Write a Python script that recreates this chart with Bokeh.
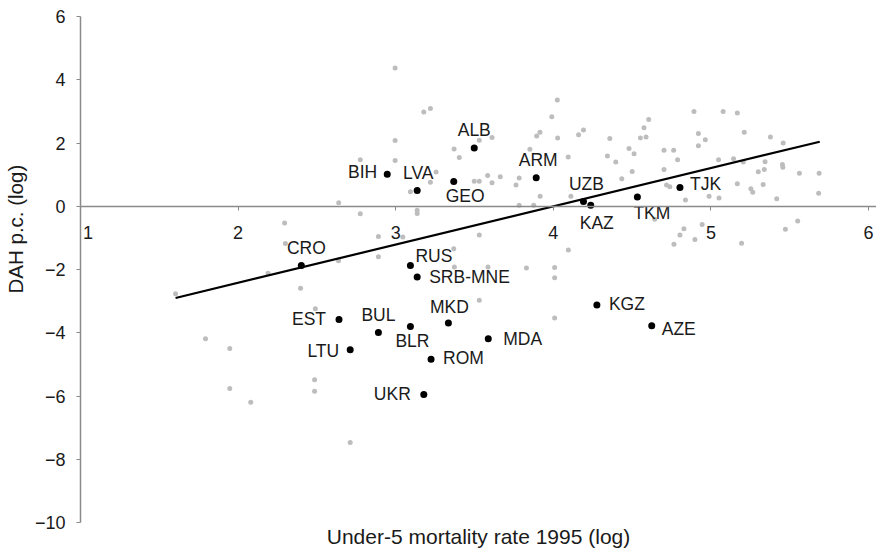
from bokeh.plotting import figure
from bokeh.models import ColumnDataSource, LinearAxis, FixedTicker, Title
from bokeh.embed import file_html
from bokeh.resources import INLINE
from bokeh.core.properties import value

# Under-5 mortality 1995 (log) and development assistance for health per capita (log)
# for all other countries (grey cloud)
other_u5mr = [
    1.603, 1.793, 1.947, 1.947, 2.080, 2.190, 2.396, 2.295, 2.300, 2.638,
    2.775, 2.775, 2.996, 2.996, 2.996, 3.136, 3.136, 3.093, 3.178, 3.220,
    3.220, 3.256, 2.890, 2.890, 3.045, 2.637, 2.490, 2.485, 2.485, 2.711,
    3.368, 3.372, 3.530, 3.530, 3.585, 3.829, 4.008, 4.008, 4.008, 4.095,
    3.370, 3.403, 3.530, 3.611, 3.498, 3.530, 3.611, 3.583, 3.663, 3.783,
    3.763, 3.851, 3.916, 3.783, 3.875, 3.894, 3.915, 3.990, 4.025, 4.027,
    4.094, 4.111, 4.160, 4.191, 4.343, 4.358, 4.396, 4.434, 4.480, 4.512,
    4.500, 4.552, 4.588, 4.575, 4.605, 4.643, 4.702, 4.763, 4.788, 4.702,
    4.718, 4.739, 4.838, 4.828, 4.803, 4.944, 4.898, 4.765, 4.892, 4.920,
    4.964, 4.920, 4.988, 5.051, 5.048, 5.077, 5.167, 5.143, 5.211, 5.205,
    5.167, 5.300, 5.338, 5.343, 5.331, 5.253, 5.265, 5.377, 5.458, 5.453,
    5.456, 5.417, 5.561, 5.686, 5.683, 5.194, 5.472, 5.550,
]
other_dah = [
    -2.77, -4.19, -4.50, -5.76, -6.20, -2.12, -2.59, -0.53, -1.18, 0.11,
    1.47, -0.24, 4.37, 2.08, 1.45, -0.13, -0.23, 0.46, 2.98, 3.09,
    0.76, 1.08, -0.96, -1.60, -0.97, -1.72, -3.24, -5.49, -5.85, -7.47,
    -1.34, -1.92, -0.91, -2.97, -1.92, -1.95, -1.94, -2.26, -3.53, -1.38,
    1.81, 1.54, 2.09, 2.17, 0.79, 0.79, 0.74, 0.97, 0.93, 0.89,
    0.67, 1.80, 0.32, 0.03, 0.03, 2.22, 2.34, 2.83, 3.36, 2.16,
    1.56, 0.32, 2.26, 2.41, 1.59, 2.14, 1.40, 0.87, 1.83, 1.66,
    1.10, 2.16, 2.19, 2.48, 2.74, -0.41, 1.77, 1.77, 1.47, 1.16,
    0.67, 0.62, 0.20, -0.71, -0.91, -0.58, -1.05, -1.20, 3.00, 2.30,
    2.10, 1.91, 0.32, 0.26, 1.47, 3.00, 2.95, 1.50, 2.34, 1.40,
    0.71, 1.09, 1.16, 1.41, 0.69, 0.55, 0.44, 2.19, 2.00, 1.32,
    1.23, 0.24, 1.04, 1.04, 0.41, -1.17, -0.73, -0.47,
]

# Transition economies, highlighted and labelled
countries = ["ALB", "BIH", "LVA", "GEO", "ARM", "CRO", "RUS", "SRB-MNE",
             "UZB", "KAZ", "TKM", "TJK", "EST", "BUL", "BLR", "MKD",
             "MDA", "LTU", "ROM", "UKR", "KGZ", "AZE"]
country_u5mr = [3.498, 2.946, 3.136, 3.368, 3.891, 2.401, 3.093, 3.136,
                4.191, 4.237, 4.533, 4.803, 2.640, 2.890, 3.093, 3.334,
                3.587, 2.711, 3.224, 3.178, 4.276, 4.624]
country_dah = [1.84, 1.01, 0.50, 0.78, 0.90, -1.87, -1.87, -2.24,
               0.15, 0.03, 0.29, 0.59, -3.58, -3.99, -3.80, -3.69,
               -4.19, -4.54, -4.84, -5.95, -3.12, -3.78]

# Fitted regression line
fit_u5mr = [1.603, 5.690]
fit_slope = 1.209
fit_intercept = -4.838

x_ticks = [1, 2, 3, 4, 5, 6]
y_ticks = [-10, -8, -6, -4, -2, 0, 2, 4, 6]

# Label placement around each marker: (dx px, dy px downward, alignment)
label_place = {
    "ALB": (0, -18, "center"), "BIH": (-10, -2, "right"), "LVA": (1, -17, "center"),
    "GEO": (-8, 14, "left"), "ARM": (2, -18, "center"), "CRO": (5, -17, "center"),
    "RUS": (5, -9, "left"), "SRB-MNE": (12, 0, "left"), "UZB": (3, -18, "center"),
    "KAZ": (6, 18, "center"), "TKM": (-4, 16, "left"), "TJK": (10, -4, "left"),
    "EST": (-13, 0, "right"), "BUL": (0, -17, "center"), "BLR": (2, 15, "center"),
    "MKD": (1, -16, "center"), "MDA": (15, 0, "left"), "LTU": (-11, 1, "right"),
    "ROM": (12, -1, "left"), "UKR": (-13, 0, "right"), "KGZ": (12, -1, "left"),
    "AZE": (10, 3, "left"),
}

FONT = "Liberation Sans"
AXIS_GREY = "#8a8a8a"
TEXT = "#1a1a1a"

# The frame runs to the right edge so the last tick label is not cut off
p = figure(width=876, height=551, x_range=(1, 6.05), y_range=(-10, 6),
           output_backend="svg", toolbar_location=None,
           min_border_left=79, min_border_right=0, min_border_top=16,
           min_border_bottom=29)
p.outline_line_color = None
p.xgrid.visible = False
p.ygrid.visible = False
p.background_fill_color = "white"
p.border_fill_color = "white"

# Bottom axis carries only the title
bx = p.xaxis[0]
bx.ticker = FixedTicker(ticks=[])
bx.axis_line_color = None
bx.major_tick_line_color = None
bx.minor_tick_line_color = None
bx.axis_label = "Under-5 mortality rate 1995 (log)"
bx.axis_label_text_font = FONT
bx.axis_label_text_font_size = "21px"
bx.axis_label_text_font_style = "normal"
bx.axis_label_text_color = TEXT
bx.axis_label_standoff = 2

# Horizontal axis crossing at zero
zero_axis = LinearAxis(fixed_location=0, ticker=FixedTicker(ticks=x_ticks))
zero_axis.axis_line_color = AXIS_GREY
zero_axis.axis_line_width = 1.5
zero_axis.major_tick_line_color = AXIS_GREY
zero_axis.major_tick_in = 0
zero_axis.major_tick_out = 4
zero_axis.minor_tick_line_color = None
zero_axis.major_label_text_font = FONT
zero_axis.major_label_text_font_size = "18px"
zero_axis.major_label_text_color = TEXT
zero_axis.major_label_standoff = 13
zero_axis.major_label_overrides = {1: "\u00a0\u00a0\u00a01"}
p.add_layout(zero_axis, "below")

ya = p.yaxis[0]
ya.ticker = FixedTicker(ticks=y_ticks)
ya.axis_line_color = AXIS_GREY
ya.axis_line_width = 1.5
ya.major_tick_line_color = AXIS_GREY
ya.major_tick_in = 0
ya.major_tick_out = 4
ya.minor_tick_line_color = None
ya.major_label_text_font = FONT
ya.major_label_text_font_size = "18px"
ya.major_label_text_color = TEXT
ya.major_label_standoff = 11

p.add_layout(Title(text="DAH p.c. (log)", align="left", offset=229,
                   text_font=FONT, text_font_size="20.5px",
                   text_font_style="normal", text_color=TEXT,
                   vertical_align="top", standoff=6), "left")

# Grey cloud of other countries
p.scatter(other_u5mr, other_dah, size=5, color="#bdbdbd", line_color=None)

# Regression line
fit_dah = [fit_intercept + fit_slope * x for x in fit_u5mr]
p.line(fit_u5mr, fit_dah, line_color="black", line_width=2.2)

# Highlighted countries
src = ColumnDataSource(dict(
    x=country_u5mr, y=country_dah, name=countries,
    dx=[label_place[c][0] for c in countries],
    dy=[label_place[c][1] for c in countries],
    align=[label_place[c][2] for c in countries],
))
p.scatter("x", "y", source=src, size=7, color="black", line_color=None)
p.text("x", "y", text="name", source=src, x_offset="dx", y_offset="dy",
       text_align="align", text_baseline="middle",
       text_font=value(FONT), text_font_size="17.5px", text_color=TEXT)

open("out.html", "w").write(file_html(p, INLINE))
